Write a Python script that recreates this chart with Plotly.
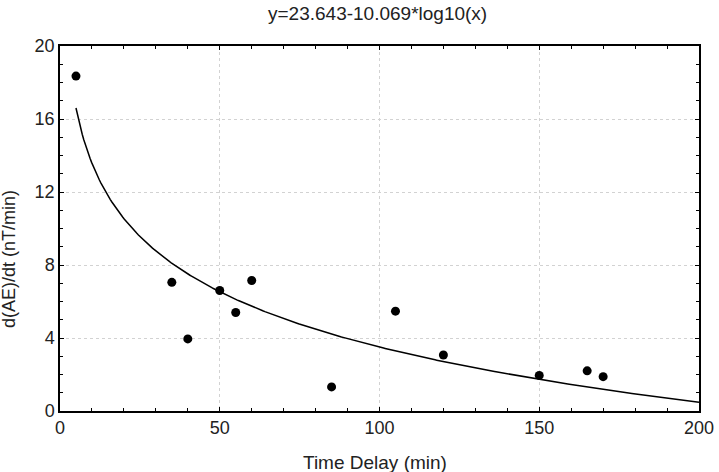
import numpy as np
import plotly.graph_objects as go

# Data
time_delay = [5, 35, 40, 50, 55, 60, 85, 105, 120, 150, 165, 170]
dae_dt = [18.35, 7.05, 3.95, 6.6, 5.4, 7.15, 1.32, 5.47, 3.07, 1.95, 2.2, 1.88]

# Fit coefficients (from title)
fit_a = 23.643
fit_b = 10.069
fit_x_range = [5, 200]

x_ticks = [0, 50, 100, 150, 200]
y_ticks = [0, 4, 8, 12, 16, 20]

x_fit = np.linspace(fit_x_range[0], fit_x_range[1], 400)
y_fit = fit_a - fit_b * np.log10(x_fit)

font_family = "Liberation Sans, Arial, sans-serif"
txt_color = "#222222"

fig = go.Figure()
fig.add_trace(go.Scatter(x=x_fit, y=y_fit, mode="lines",
                         line=dict(color="black", width=1.5), hoverinfo="skip"))
fig.add_trace(go.Scatter(x=time_delay, y=dae_dt, mode="markers",
                         marker=dict(color="black", size=9)))

axis_common = dict(
    showline=True, linecolor="black", linewidth=1.5, mirror="ticks",
    ticks="inside", ticklen=4, tickcolor="black", tickwidth=1,
    showgrid=True, gridcolor="#d2d2d2", griddash="dot", gridwidth=1,
    zeroline=False, automargin=False,
    tickfont=dict(family=font_family, size=18, color=txt_color),
)

fig.update_xaxes(range=[0, 200], tickvals=x_ticks,
                 minor=dict(dtick=10, ticks="inside", ticklen=3, tickcolor="black", showgrid=False),
                 **axis_common)
fig.update_yaxes(range=[0, 20], tickvals=y_ticks,
                 minor=dict(dtick=1, ticks="inside", ticklen=3, tickcolor="black", showgrid=False),
                 **axis_common)

fig.update_layout(
    width=719, height=472,
    margin=dict(l=60, r=20, t=46, b=61),
    plot_bgcolor="white", paper_bgcolor="white",
    showlegend=False,
    annotations=[
        dict(text="y=23.643-10.069*log10(x)", xref="paper", yref="paper",
             x=(377.5 - 60) / 639, y=(411 - 14) / 365,
             xanchor="center", yanchor="middle", showarrow=False,
             font=dict(family=font_family, size=19, color=txt_color)),
        dict(text="Time Delay (min)", xref="paper", yref="paper",
             x=(375 - 60) / 639, y=(411 - 462) / 365,
             xanchor="center", yanchor="middle", showarrow=False,
             font=dict(family=font_family, size=19, color=txt_color)),
        dict(text="d(AE)/dt (nT/min)", xref="paper", yref="paper", textangle=-90,
             x=(9 - 60) / 639, y=(411 - 259) / 365,
             xanchor="center", yanchor="middle", showarrow=False,
             font=dict(family=font_family, size=18, color=txt_color)),
    ],
)

fig.write_html("out.html")
